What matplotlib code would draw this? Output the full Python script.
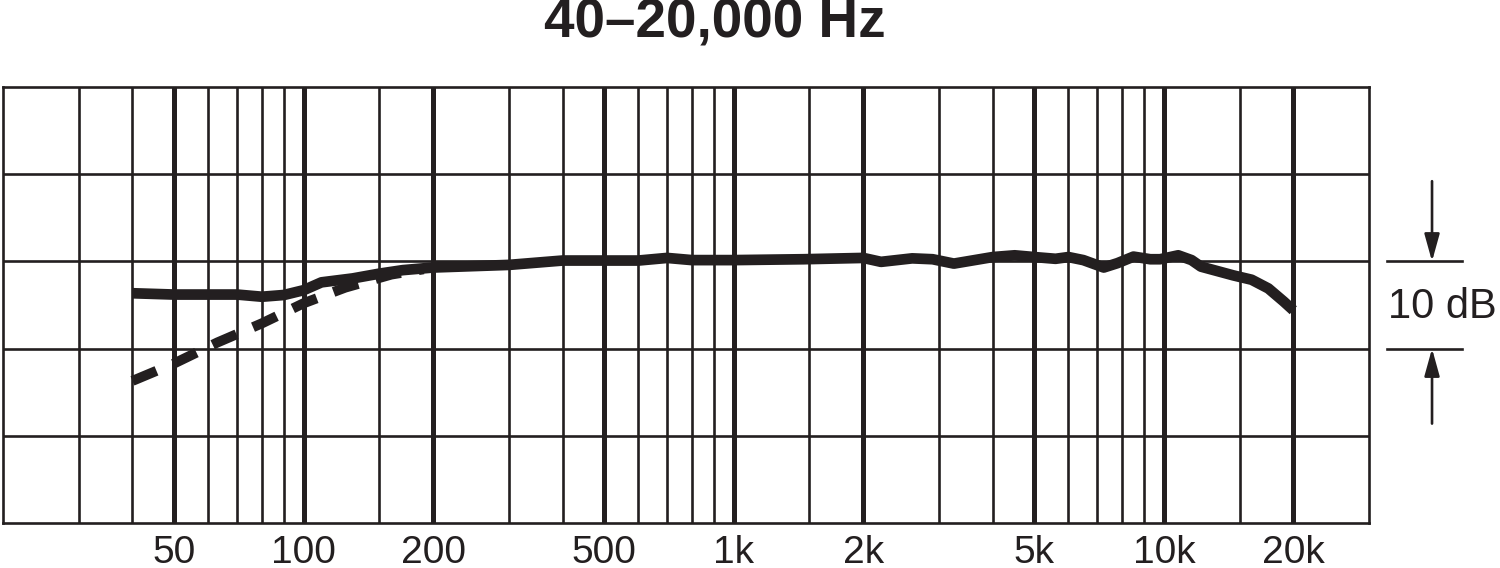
import matplotlib
matplotlib.use("Agg")
import matplotlib.pyplot as plt
import matplotlib.transforms as mtransforms

# ---- data ----
title_text = "40–20,000 Hz"
solid_freq = [40, 50, 60, 70, 80, 90, 100, 110, 130, 150, 170, 200, 300, 400, 500,
              600, 700, 800, 1000, 1450, 2000, 2200, 2600, 2900, 3250, 4000, 4500,
              5000, 5600, 6000, 6500, 7250, 7800, 8500, 9300, 9800, 10800, 11600,
              12200, 14500, 16000, 17500, 19000, 20000]
solid_db = [-3.65, -3.8, -3.8, -3.8, -4.05, -3.85, -3.3, -2.4, -1.95, -1.4, -1.0,
            -0.7, -0.4, 0.1, 0.1, 0.1, 0.4, 0.15, 0.15, 0.25, 0.4, -0.05, 0.35,
            0.25, -0.25, 0.5, 0.7, 0.5, 0.3, 0.5, 0.15, -0.7, -0.2, 0.55, 0.25,
            0.25, 0.7, 0.15, -0.6, -1.6, -2.1, -3.1, -4.6, -5.6]
dashed_freq = [40, 50, 63, 80, 100, 125, 160, 190]
dashed_db = [-13.7, -11.7, -9.3, -7.1, -4.8, -3.0, -1.5, -0.9]

major_freqs = [50, 100, 200, 500, 1000, 2000, 5000, 10000, 20000]
major_labels = ["50", "100", "200", "500", "1k", "2k", "5k", "10k", "20k"]
minor_freqs = [30, 40, 60, 70, 80, 90, 150, 300, 400, 600, 700, 800, 900, 1500,
               3000, 4000, 6000, 7000, 8000, 9000, 15000]
db_grid = [-20, -10, 0, 10]
scale_label = "10 dB"

INK = "#231f20"
FONT = ["Liberation Sans", "DejaVu Sans"]

fig = plt.figure(figsize=(15, 5.68), dpi=100)
ax = fig.add_axes([0.002, 0.0792, 0.9107, 0.7676])
ax.set_xscale("log")
ax.set_xlim(20, 30000)
ax.set_ylim(-30, 20)

ax.set_xticks(major_freqs)
ax.set_xticklabels(major_labels, fontfamily=FONT, fontsize=28, color=INK)
ax.set_xticks(minor_freqs, minor=True)
ax.xaxis.set_minor_formatter(matplotlib.ticker.NullFormatter())
ax.set_yticks(db_grid)
ax.set_yticklabels([])
ax.tick_params(axis="both", which="both", length=0)
ax.tick_params(axis="x", which="major", pad=8.5)

ax.grid(True, axis="x", which="major", color=INK, lw=3.6)
ax.grid(True, axis="x", which="minor", color=INK, lw=1.9)
ax.grid(True, axis="y", which="major", color=INK, lw=1.9)
for s in ax.spines.values():
    s.set_linewidth(1.9)
    s.set_color(INK)

ax.plot(dashed_freq, dashed_db, color=INK, lw=7.2, ls=(0, (2.6, 1.8)),
        solid_capstyle="butt", zorder=3)
ax.plot(solid_freq, solid_db, color=INK, lw=7.7, solid_joinstyle="round",
        solid_capstyle="butt", zorder=4)

fig.text(715 / 1500, 1 - 23 / 568, title_text, ha="center", va="center",
         fontsize=39.5, fontweight="bold", family=FONT, color=INK)

# 10 dB scale indicator
trans = mtransforms.blended_transform_factory(ax.transAxes, ax.transData)
for yv in (0, -10):
    ax.plot([1.0132, 1.068], [yv, yv], transform=trans, color=INK, lw=1.9,
            clip_on=False)
arrow_kw = dict(arrowstyle="-|>,head_length=0.83,head_width=0.23",
                mutation_scale=20, color=INK, lw=1.9, shrinkA=0, shrinkB=0)
ax.annotate("", xy=(1.0461, 0), xytext=(1.0461, 9.2), xycoords=trans,
            textcoords=trans, arrowprops=arrow_kw, annotation_clip=False)
ax.annotate("", xy=(1.0461, -10), xytext=(1.0461, -18.6), xycoords=trans,
            textcoords=trans, arrowprops=arrow_kw, annotation_clip=False)
ax.text(1.0534, -5.2, scale_label, transform=trans, ha="center", va="center",
        fontsize=30, family=FONT, color=INK, clip_on=False)

fig.savefig("out.png", dpi=100, facecolor="white")
